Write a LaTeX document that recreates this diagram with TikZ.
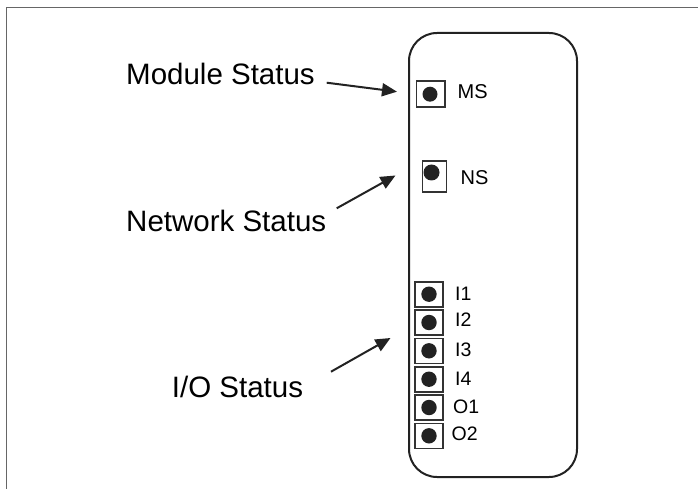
\documentclass[tikz,border=0pt]{standalone}
\usepackage{fontspec}
\setmainfont{Liberation Sans}
\usetikzlibrary{arrows.meta}
\definecolor{framecol}{HTML}{666666}
\definecolor{inkcol}{HTML}{222222}
\definecolor{boxcol}{HTML}{333333}
\tikzset{
  bigtext/.style={anchor=base west, inner sep=0pt, font=\fontsize{29.5}{32}\selectfont, text=black},
  smalltext/.style={anchor=base west, inner sep=0pt, font=\fontsize{20}{22}\selectfont, text=black},
  iotext/.style={anchor=base west, inner sep=0pt, font=\fontsize{19.5}{22}\selectfont, text=black},
  ledbox/.style={draw=boxcol, line width=1.6pt, inner sep=0pt, minimum width=28pt, minimum height=25pt},
  leddot/.style={circle, fill=inkcol, inner sep=0pt, minimum size=15.4pt},
  pointer/.style={draw=inkcol, line width=2pt, -{Triangle[length=15pt,width=13pt]}},
  module/.style={draw=inkcol, line width=2pt, rounded corners=28pt}
}
\begin{document}
\begin{tikzpicture}[x=1pt,y=-1pt]
\useasboundingbox (0,0) rectangle (698,489);
% frame
\draw[framecol, line width=1.6pt] (6.5,489) -- (6.5,7.5) -- (698,7.5);
% module body
\draw[module] (409,33) rectangle (577,477);
% MS
\node[ledbox, minimum width=28.5pt, minimum height=26pt] (msbox) at (430.7,94) {};
\node[leddot, minimum size=15pt] (msdot) at (430,94.2) {};
\node[smalltext] (mslabel) at (457.5,99) {MS};
% NS
\node[ledbox, minimum width=24pt, minimum height=31pt] (nsbox) at (434.5,176.5) {};
\node[leddot, minimum size=16pt] (nsdot) at (431.5,172.5) {};
\node[smalltext] (nslabel) at (460.5,184.3) {NS};
% I/O LEDs
\node[ledbox] (i1box) at (429,294.2) {};
\node[leddot] (i1dot) at (i1box.center) {};
\node[iotext] (i1label) at (455,300) {I1};
\node[ledbox] (i2box) at (429,322.5) {};
\node[leddot] (i2dot) at (i2box.center) {};
\node[iotext] (i2label) at (455,326) {I2};
\node[ledbox] (i3box) at (429,350.8) {};
\node[leddot] (i3dot) at (i3box.center) {};
\node[iotext] (i3label) at (455,356) {I3};
\node[ledbox] (i4box) at (429,379.2) {};
\node[leddot] (i4dot) at (i4box.center) {};
\node[iotext] (i4label) at (455,385) {I4};
\node[ledbox] (o1box) at (429,407.5) {};
\node[leddot] (o1dot) at (o1box.center) {};
\node[iotext] (o1label) at (453,413) {O1};
\node[ledbox] (o2box) at (429,435.8) {};
\node[leddot] (o2dot) at (o2box.center) {};
\node[iotext] (o2label) at (451.5,440) {O2};
% callout labels
\node[bigtext] (modstat) at (126,85) {Module Status};
\node[bigtext] (netstat) at (126,231.7) {Network Status};
\node[bigtext] (iostat) at (171.7,397.7) {I/O Status};
% arrow ends
\coordinate (modfrom) at (326.7,82.7);
\coordinate (modto) at (397,91.7);
\coordinate (netfrom) at (336.7,208.3);
\coordinate (netto) at (395.5,175.5);
\coordinate (iofrom) at (331,371.7);
\coordinate (ioto) at (390.5,338);
\draw[pointer] (modfrom) -- (modto);
\draw[pointer] (netfrom) -- (netto);
\draw[pointer] (iofrom) -- (ioto);
\end{tikzpicture}
\end{document}
